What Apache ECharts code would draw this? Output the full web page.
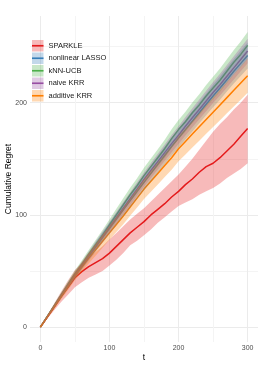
<!DOCTYPE html>
<html>
<head>
<meta charset="utf-8">
<script src="https://cdn.jsdelivr.net/npm/echarts@6/dist/echarts.min.js"></script>
<style>html,body{margin:0;padding:0;background:#fff}#c{width:262px;height:367px}</style>
</head>
<body>
<div id="c"></div>
<script>
const T = [0,10,20,30,40,50,60,70,80,90,100,110,120,130,140,150,160,170,180,190,200,210,220,230,240,250,260,270,280,290,300];
const methods = ['SPARKLE','nonlinear LASSO','kNN-UCB','naive KRR','additive KRR'];

const sparkleMean = [0,9,18,27,35.5,44,49.5,54,57.5,61,66,72,78,84,89,94,100,105,110,116,121,127,132,138,143,146,151,157,163,170,177];
const sparkleLo   = [0,7.5,15,22.5,29,35.5,40,44,47,50,55,60,66,73,77,82,87,93,98,103,108,111,114,118,121,124,128,133,137,141,146];
const sparkleHi   = [0,10.5,21,31.5,41.5,51,57,62,67,72,78,84,90,96,101,106,112,118,124,130,136,143,150,158,166,174,181,187,194,200,207];

const lassoMean = [0,9.2,18.5,27.7,36.9,46,54.5,63,71.4,79.8,88,96.3,104.5,112.7,121,129,137,145,153,161,168.5,176,183.5,191,198.5,206,213,220.5,228,235,242];
const lassoLo   = [0,8.1,16.9,25.6,34.3,43,51.1,59.2,67.2,75.2,83,90.9,98.7,106.5,114.4,122,129.7,137.4,145.1,152.8,160,167.2,174.4,181.6,188.8,196,202.7,209.9,217.1,223.8,230.5];
const lassoHi   = [0.3,10.3,20.1,29.8,39.5,49,57.9,66.8,75.6,84.4,93,101.7,110.3,118.9,127.6,136,144.3,152.6,160.9,169.2,177,184.8,192.6,200.4,208.2,216,223.3,231.1,238.9,246.2,253.5];

const knnMean = [0,9.5,19,28.5,38,47.5,56,65,73.5,82,91,100,109,118,126,135,143,151,159,168,176,183,191,198,206,213,220,228,236,243,251];
const knnLo   = [0,8.5,17.4,26.4,35.4,44.5,52.6,61.2,69.3,77.4,86,94.6,103.2,111.8,119.4,128,135.7,143.4,151,159.7,167.4,174.1,181.8,188.5,196.2,202.9,209.6,217.3,225,231.6,239];
const knnHi   = [0.5,10.5,20.6,30.6,40.6,50.5,59.4,68.8,77.7,86.6,96,105.4,114.8,124.2,132.6,142,150.3,158.6,167,176.3,184.6,191.9,200.2,207.5,215.8,223.1,230.4,238.7,247,254.4,263];

const naiveMean = [0,9.3,18.6,28,37.2,46.5,55,63.6,72,80.5,89,97.5,106,114.5,123,131.5,139.5,147.5,155.5,163.5,171,179,186.5,194,201.5,209,216,223.5,231,238.5,246];
const naiveLo   = [0,8.3,17.1,26,34.8,43.7,51.8,60,68,76.1,84.2,92.3,100.5,108.7,116.9,125.1,132.8,140.5,148.2,155.9,163.1,170.8,178,185.2,192.4,199.6,206.3,213.5,220.7,227.9,235];
const naiveHi   = [0.3,10.3,20.1,30,39.6,49.3,58.2,67.2,76,84.9,93.8,102.7,111.5,120.3,129.1,137.9,146.2,154.5,162.8,171.1,178.9,187.2,195,202.8,210.6,218.4,225.7,233.5,241.3,249.1,257];

const addMean = [0,9.1,18.2,27.2,36.2,45.5,53.5,61.5,69,76.5,84,91.5,99,107,115,123,130,137,144,151,159,165.5,172,178.5,185,191.5,198,204.5,211,217.5,224];
const addLo   = [0,7.9,16.2,24.6,33,41.7,49.2,56.7,63.7,70.7,77.7,84.7,91.7,99.2,106.7,114.2,120.7,127.2,133.7,140.2,147.8,153.9,160,166.1,172.2,178.3,184.4,190.5,196.6,202.7,208.8];
const addHi   = [0.3,10.3,20.2,29.8,39.4,49.3,57.8,66.3,74.3,82.3,90.3,98.3,106.3,114.8,123.3,131.8,139.3,146.8,154.3,161.8,170.2,177.1,184,190.9,197.8,204.7,211.6,218.5,225.4,232.3,239.2];

const xTickLabels = [0,100,200,300];
const xGrid = [0,50,100,150,200,250,300];
const yTickLabels = [0,100,200];
const yGrid = [0,50,100,150,200,250];

const colors = ['#E41A1C','#377EB8','#4DAF4A','#984EA3','#FF7F00'];
const fills = ['rgba(228,26,28,0.3)','rgba(55,126,184,0.3)','rgba(77,175,74,0.3)','rgba(152,78,163,0.3)','rgba(255,127,0,0.3)'];
const means = [sparkleMean, lassoMean, knnMean, naiveMean, addMean];
const los = [sparkleLo, lassoLo, knnLo, naiveLo, addLo];
const his = [sparkleHi, lassoHi, knnHi, naiveHi, addHi];

const FONT = 'Liberation Sans, Arial, sans-serif';
const series = [];
methods.forEach((m, i) => {
  series.push({
    type: 'line', name: m, z: 2, symbol: 'none', color: colors[i],
    data: T.map((t, j) => [t, means[i][j]]),
    lineStyle: {width: 1.5, color: colors[i]}
  });
});
methods.forEach((m, i) => {
  series.push({
    type: 'custom', name: m + ' band', silent: true, z: 3,
    data: [[T[0], los[i][0]]],
    encode: {x: 0, y: 1},
    renderItem: function (params, api) {
      const pts = [];
      for (let j = 0; j < T.length; j++) pts.push(api.coord([T[j], his[i][j]]));
      for (let j = T.length - 1; j >= 0; j--) pts.push(api.coord([T[j], los[i][j]]));
      return {type: 'polygon', shape: {points: pts}, style: {fill: fills[i]}};
    }
  });
});

const chart = echarts.init(document.getElementById('c'), null, {renderer: 'canvas'});
chart.setOption({
  animation: false,
  textStyle: {fontFamily: FONT},
  grid: {left: 30, right: 4, top: 16, bottom: 25, outerBoundsMode: 'none', containLabel: false},
  legend: [{
    left: 27, top: 35, orient: 'vertical', itemWidth: 11.5, itemHeight: 11.5, itemGap: 1,
    icon: 'rect', selectedMode: false,
    textStyle: {fontSize: 7.5, lineHeight: 11.5, color: '#1A1A1A', fontFamily: FONT},
    data: methods.map((m, i) => ({name: m, itemStyle: {color: fills[i], borderWidth: 0}}))
  }, {
    left: 27, top: 35, orient: 'vertical', itemWidth: 11.5, itemHeight: 11.5, itemGap: 1,
    icon: 'path://M0,0H70V10H0Z', selectedMode: false, symbolKeepAspect: true,
    formatter: function () { return ' '; },
    textStyle: {fontSize: 7.5, lineHeight: 11.5},
    data: methods.map((m, i) => ({name: m, itemStyle: {color: colors[i], borderWidth: 0}}))
  }],
  xAxis: {
    type: 'value', min: -15, max: 315,
    name: 't', nameLocation: 'middle', nameGap: 11, nameMoveOverlap: false,
    nameTextStyle: {fontSize: 8.5, color: '#000', fontFamily: FONT},
    axisLine: {show: false},
    axisTick: {show: false, customValues: xGrid},
    axisLabel: {customValues: xTickLabels, fontSize: 7, color: '#4D4D4D', margin: 3, fontFamily: FONT},
    splitLine: {show: true, lineStyle: {color: ['#EBEBEB', '#F4F4F4'], width: 1}}
  },
  yAxis: {
    type: 'value', min: -13.2, max: 277.2,
    name: 'Cumulative Regret', nameLocation: 'middle', nameGap: 17, nameRotate: 90, nameMoveOverlap: false,
    nameTextStyle: {fontSize: 8.5, color: '#000', fontFamily: FONT},
    axisLine: {show: false},
    axisTick: {show: false, customValues: yGrid},
    axisLabel: {customValues: yTickLabels, fontSize: 7, color: '#4D4D4D', margin: 3, fontFamily: FONT},
    splitLine: {show: true, lineStyle: {color: ['#EBEBEB', '#F4F4F4'], width: 1}}
  },
  series: series
});
</script>
</body>
</html>
